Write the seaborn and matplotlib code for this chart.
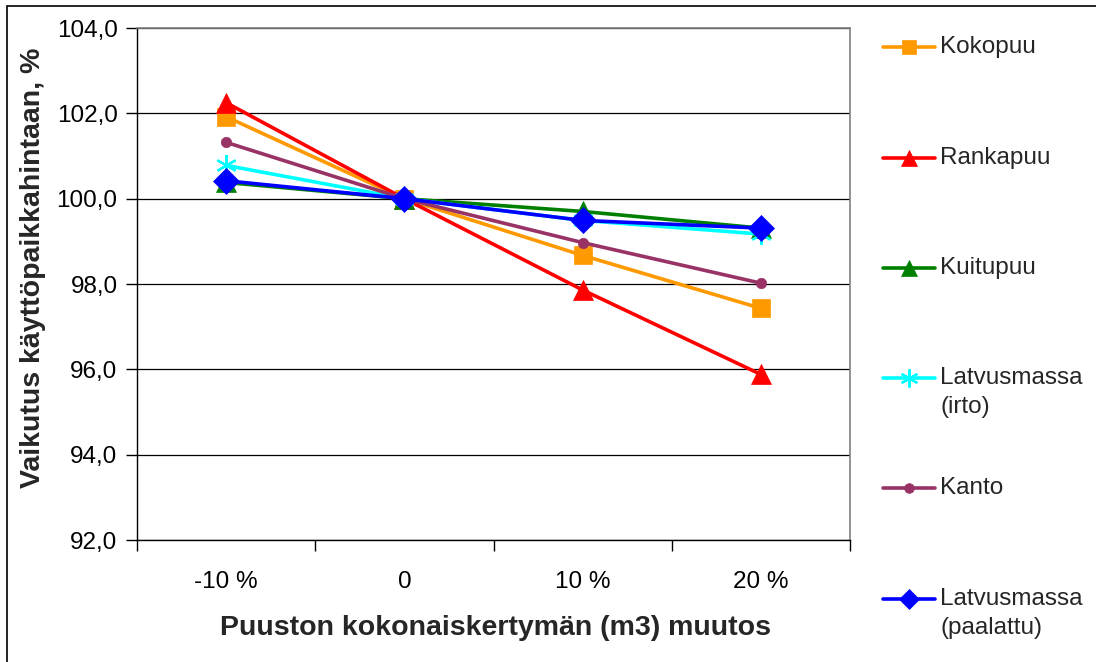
import matplotlib
matplotlib.use("Agg")
import matplotlib.pyplot as plt
from matplotlib.lines import Line2D
from matplotlib.patches import Rectangle
from matplotlib.ticker import FixedLocator, FuncFormatter
import seaborn as sns
import pandas as pd

# Change in total stand removal (categories on the x axis)
categories = ["-10 %", "0", "10 %", "20 %"]

# Effect on roadside price, % (index 100 = no change)
kokopuu = [101.92, 100.0, 98.67, 97.43]
rankapuu = [102.25, 100.0, 97.86, 95.88]
kuitupuu = [100.38, 100.0, 99.70, 99.31]
latvus_irto = [100.78, 100.0, 99.49, 99.17]
kanto = [101.32, 100.0, 98.97, 98.02]
latvus_paalattu = [100.42, 100.0, 99.49, 99.31]

series_names = ["Kokopuu", "Rankapuu", "Kuitupuu", "Latvusmassa\n(irto)",
                "Kanto", "Latvusmassa\n(paalattu)"]
series_values = [kokopuu, rankapuu, kuitupuu, latvus_irto, kanto, latvus_paalattu]
series_colors = ["#FF9900", "#FF0000", "#008000", "#00FFFF", "#993366", "#0000FF"]
series_markers = ["s", "^", "^", (6, 2, 0), "o", "D"]
marker_sizes = [12.5, 14.5, 14.5, 15, 7.5, 13]
legend_marker_sizes = [10, 11, 11, 13, 7, 10]

y_ticks = [92, 94, 96, 98, 100, 102, 104]

FONT = "Liberation Sans"
sns.set_theme(style="white")
plt.rcParams["font.family"] = [FONT, "DejaVu Sans"]

W, H = 1096, 662
fig = plt.figure(figsize=(W / 100, H / 100), dpi=100)
ax = fig.add_axes([137 / W, 1 - 540 / H, (850 - 137) / W, (540 - 28) / H])

x_pos = list(range(len(categories)))
for name, vals, col, mk, ms in zip(series_names, series_values, series_colors,
                                   series_markers, marker_sizes):
    df = pd.DataFrame({"x": x_pos, "y": vals})
    sns.lineplot(data=df, x="x", y="y", ax=ax, color=col, linewidth=2.6,
                 marker=mk, markersize=ms, markeredgecolor=col,
                 markeredgewidth=1.6 if mk == (6, 2, 0) else 0.5,
                 markerfacecolor=col, legend=False, zorder=3)

ax.set_xlim(-0.5, len(categories) - 0.5)
ax.set_ylim(92, 104)

# Category labels centred, tick marks on category boundaries
ax.xaxis.set_major_locator(FixedLocator(x_pos))
ax.set_xticklabels(categories)
ax.xaxis.set_minor_locator(FixedLocator([i - 0.5 for i in range(len(categories) + 1)]))
ax.tick_params(axis="x", which="major", length=0, pad=22, labelsize=17.5)
ax.tick_params(axis="x", which="minor", length=8, width=1, color="black",
               direction="out", bottom=True)

ax.yaxis.set_major_locator(FixedLocator(y_ticks))
ax.yaxis.set_major_formatter(FuncFormatter(lambda v, p: f"{v:.1f}".replace(".", ",")))
ax.tick_params(axis="y", which="major", length=8, width=1, color="black",
               direction="out", left=True, pad=6, labelsize=17.5)

for lab in ax.get_xticklabels() + ax.get_yticklabels():
    lab.set_color("black")

ax.grid(axis="y", color="black", linewidth=0.9, zorder=0)
ax.grid(axis="x", visible=False)
ax.set_axisbelow(True)

for side in ["left", "bottom"]:
    ax.spines[side].set_color("black")
    ax.spines[side].set_linewidth(1.0)
for side in ["top", "right"]:
    ax.spines[side].set_color("#808080")
    ax.spines[side].set_linewidth(1.2)

ax.set_xlabel("")
ax.set_ylabel("")
fig.text(495 / W, 1 - 628 / H, "Puuston kokonaiskertymän (m3) muutos",
         ha="center", va="center", fontsize=20.5, fontweight="bold")
fig.text(33 / W, 1 - 268 / H, "Vaikutus käyttöpaikkahintaan, %",
         ha="center", va="center", rotation=90, fontsize=20.5, fontweight="bold")

# Legend drawn beside the plot, one entry per series
handle_y = [47, 158, 268, 378, 488, 599]
for name, col, mk, ms, hy in zip(series_names, series_colors, series_markers,
                                 legend_marker_sizes, handle_y):
    yf = 1 - hy / H
    fig.add_artist(Line2D([883 / W, 935 / W], [yf, yf], color=col, linewidth=2.6,
                          transform=fig.transFigure))
    fig.add_artist(Line2D([909 / W], [yf], color=col, marker=mk, markersize=ms,
                          markeredgecolor=col,
                          markeredgewidth=1.6 if mk == (6, 2, 0) else 0.5,
                          transform=fig.transFigure))
    for k, line in enumerate(name.split("\n")):
        fig.text(940 / W, 1 - (hy + 29 * k) / H, line, ha="left", va="center",
                 fontsize=17.5)

# Chart-area border
fig.add_artist(Rectangle((7 / W, -0.05), 1.1, 1 - 6 / H + 0.05, fill=False,
                         edgecolor="black", linewidth=1.2,
                         transform=fig.transFigure))

fig.savefig("out.png", dpi=100, facecolor="white")
